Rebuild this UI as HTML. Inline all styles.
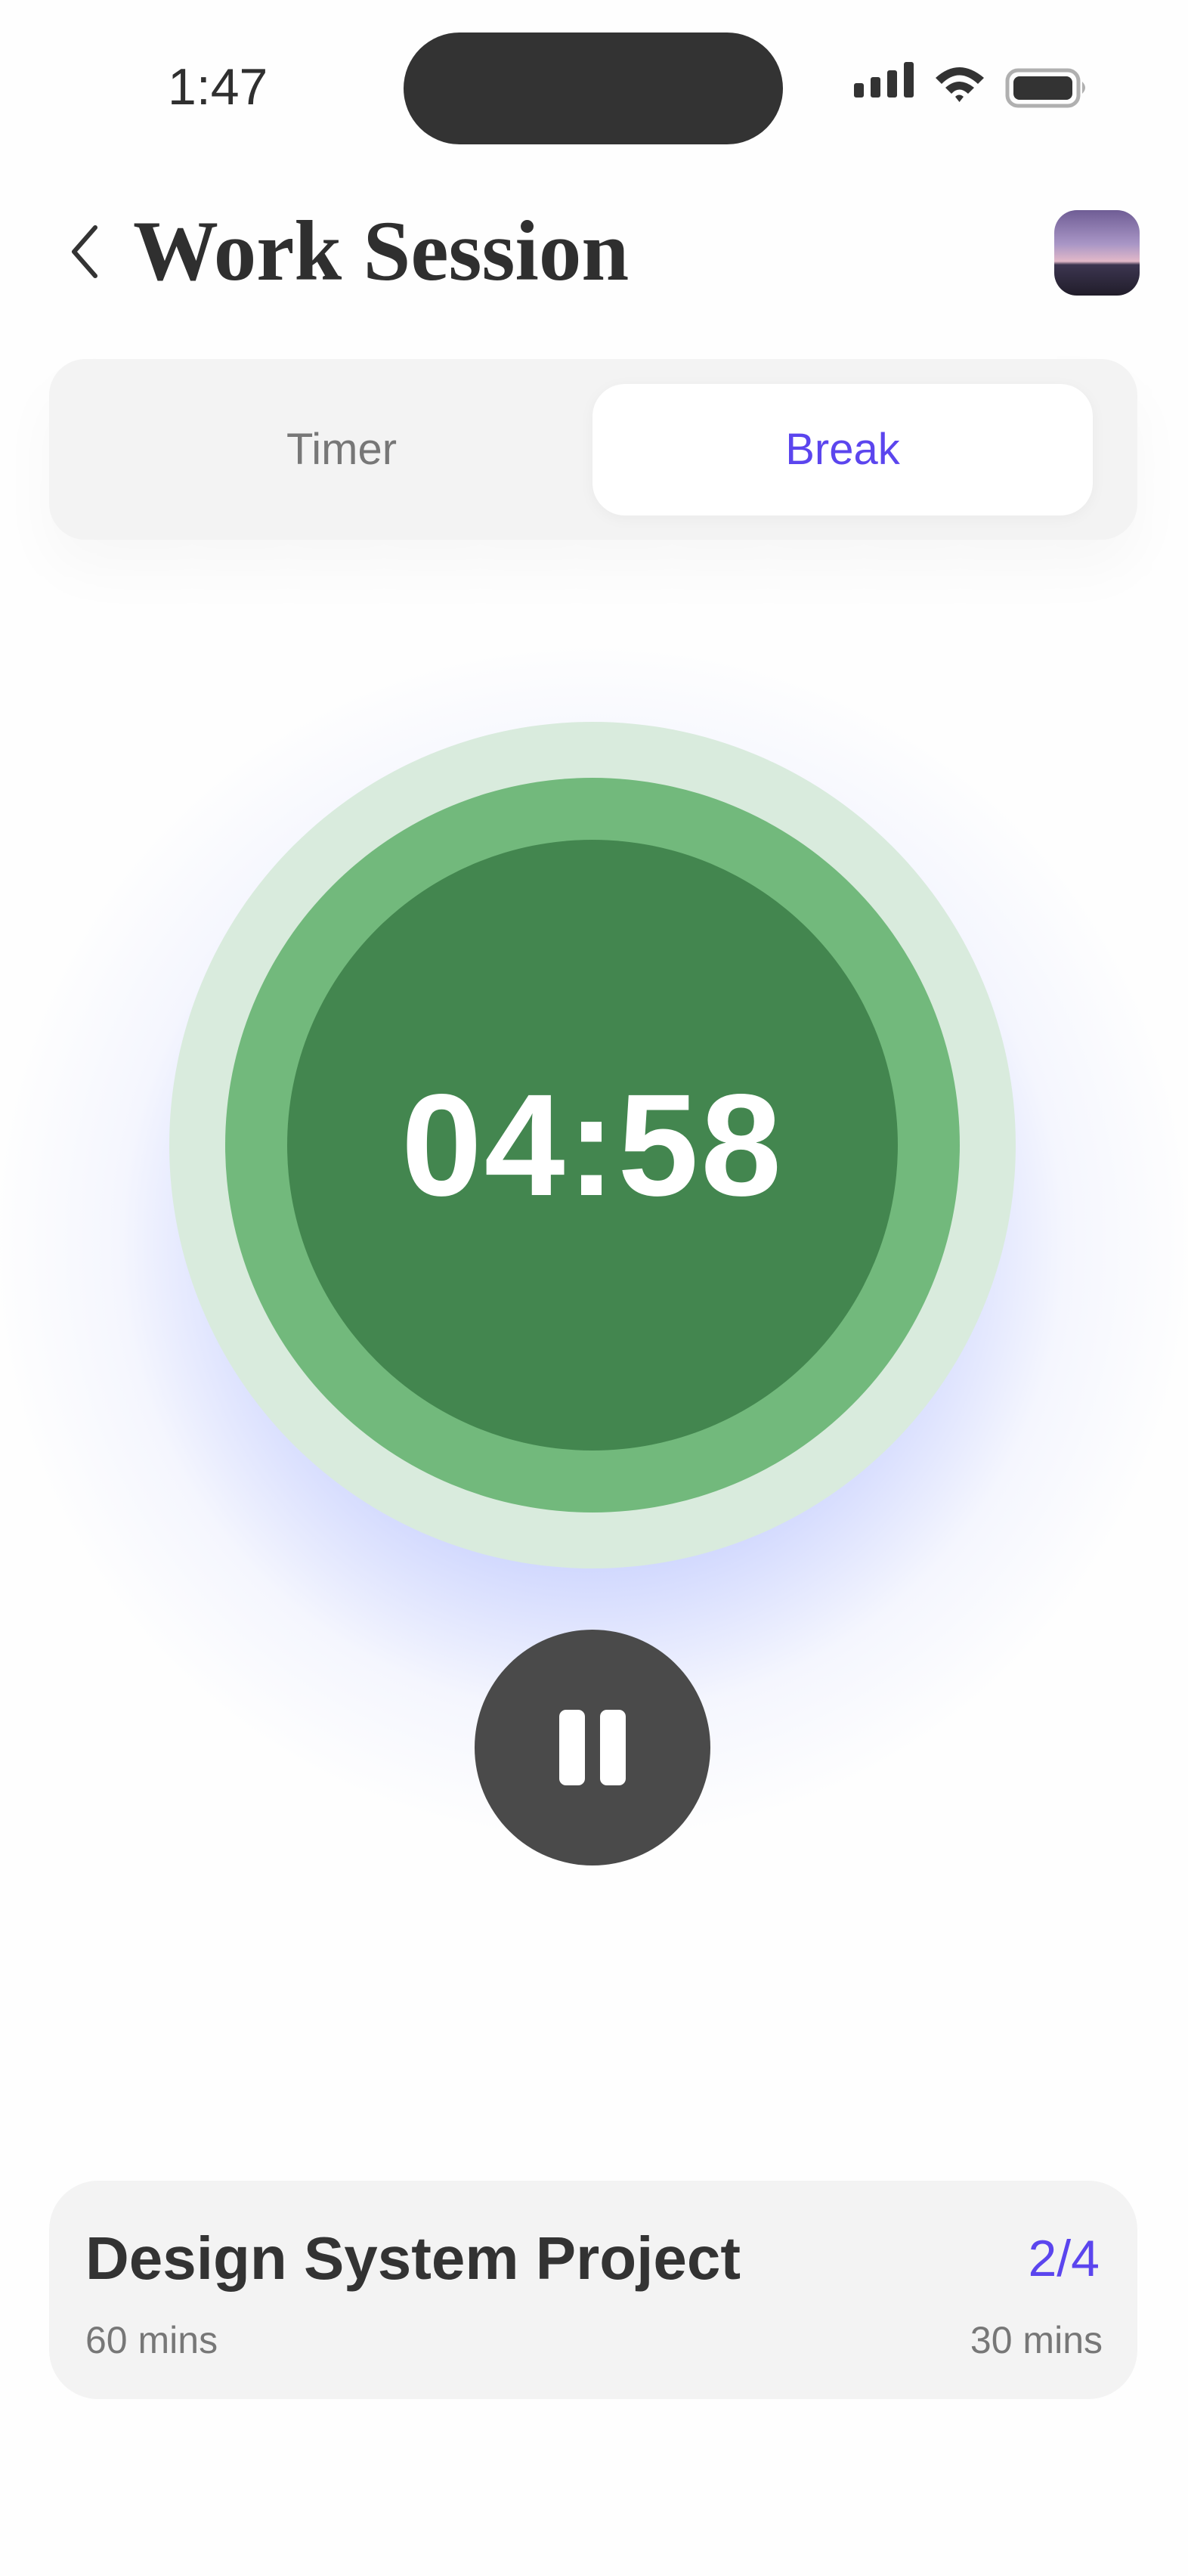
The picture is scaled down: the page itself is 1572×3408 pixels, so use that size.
<!DOCTYPE html>
<html><head><meta charset="utf-8"><style>
*{margin:0;padding:0;box-sizing:border-box}
body{width:1572px;height:3408px;background:#fefefe;position:relative;overflow:hidden;font-family:"Liberation Sans",sans-serif}
.abs{position:absolute}
</style></head><body>
<div class="abs" style="left:222px;top:76px;font-size:68px;color:#2f2f2f;font-weight:500">1:47</div>
<div class="abs" style="left:534px;top:43px;width:502px;height:148px;border-radius:74px;background:#333"></div>
<svg class="abs" style="left:1120px;top:80px" width="330" height="70" viewBox="0 0 330 70">
<rect x="10" y="30" width="13" height="19" rx="3" fill="#333"/>
<rect x="32" y="22" width="13" height="27" rx="3" fill="#333"/>
<rect x="54" y="13" width="13" height="36" rx="3" fill="#333"/>
<rect x="76" y="2" width="13" height="47" rx="3" fill="#333"/>
<path d="M118 23 Q149 -5 182 23 L174 31 Q149 8 126 31Z" fill="#333"/>
<path d="M131 36 Q149 20 169 36 L161 44 Q149 33 139 44Z" fill="#333"/>
<path d="M144 48 Q149 43 155 48 L149.5 55Z" fill="#333"/>
<rect x="213" y="13" width="94" height="47" rx="14" fill="none" stroke="#b0b0b0" stroke-width="5"/>
<rect x="221" y="21" width="78" height="31" rx="8" fill="#333"/>
<path d="M312 28 Q320 36 312 44Z" fill="#b0b0b0"/>
</svg>
<svg class="abs" style="left:88px;top:295px" width="50" height="76"><path d="M38 6 L10 38 L38 70" fill="none" stroke="#333" stroke-width="6" stroke-linecap="round" stroke-linejoin="round"/></svg>
<div class="abs" style="left:176px;top:268px;font-family:'Liberation Serif',serif;font-weight:bold;font-size:113px;color:#2f2f2f;line-height:130px">Work Session</div>
<div class="abs" style="left:1395px;top:278px;width:113px;height:113px;border-radius:30px;overflow:hidden;background:linear-gradient(#6f5d95 0%,#a996c6 40%,#e2b8c8 60%,#3c3550 64%,#211d2a 100%)"></div>
<div class="abs" style="left:65px;top:475px;width:1440px;height:239px;border-radius:48px;background:#f3f3f3;box-shadow:0 40px 80px rgba(0,0,0,0.03)"></div>
<div class="abs" style="left:96px;top:508px;width:712px;height:174px;line-height:174px;text-align:center;font-size:58px;color:#777">Timer</div>
<div class="abs" style="left:784px;top:508px;width:662px;height:174px;line-height:174px;text-align:center;font-size:58px;color:#5b45ee;background:#fff;border-radius:43px;box-shadow:0 4px 20px rgba(0,0,0,0.04)">Break</div>
<div class="abs" style="left:-20px;top:840px;width:1608px;height:1608px;border-radius:50%;background:radial-gradient(circle,rgba(95,120,255,0.45) 0%,rgba(95,120,255,0.28) 38%,rgba(95,120,255,0.06) 55%,rgba(95,120,255,0) 70%)"></div>
<div class="abs" style="left:224px;top:955px;width:1120px;height:1120px;border-radius:50%;background:#d9ebdd"></div>
<div class="abs" style="left:298px;top:1029px;width:972px;height:972px;border-radius:50%;background:#72b97c"></div>
<div class="abs" style="left:380px;top:1111px;width:808px;height:808px;border-radius:50%;background:#43864f"></div>
<div class="abs" style="left:380px;top:1405px;width:808px;text-align:center;font-size:192px;font-weight:bold;color:#fff;line-height:220px;letter-spacing:3px">04:58</div>
<div class="abs" style="left:628px;top:2156px;width:312px;height:312px;border-radius:50%;background:#4a4a4a">
<div style="position:absolute;left:112px;top:106px;width:34px;height:100px;border-radius:9px;background:#fff"></div>
<div style="position:absolute;left:166px;top:106px;width:34px;height:100px;border-radius:9px;background:#fff"></div>
</div>
<div class="abs" style="left:65px;top:2885px;width:1440px;height:289px;border-radius:65px;background:#f3f3f3"></div>
<div class="abs" style="left:113px;top:2940px;font-size:80px;font-weight:bold;color:#333;line-height:96px">Design System Project</div>
<div class="abs" style="right:117px;top:2940px;font-size:68px;color:#5b45ee;line-height:96px">2/4</div>
<div class="abs" style="left:113px;top:3066px;font-size:50px;color:#777;line-height:60px">60 mins</div>
<div class="abs" style="right:113px;top:3066px;font-size:50px;color:#777;line-height:60px">30 mins</div>
</body></html>
